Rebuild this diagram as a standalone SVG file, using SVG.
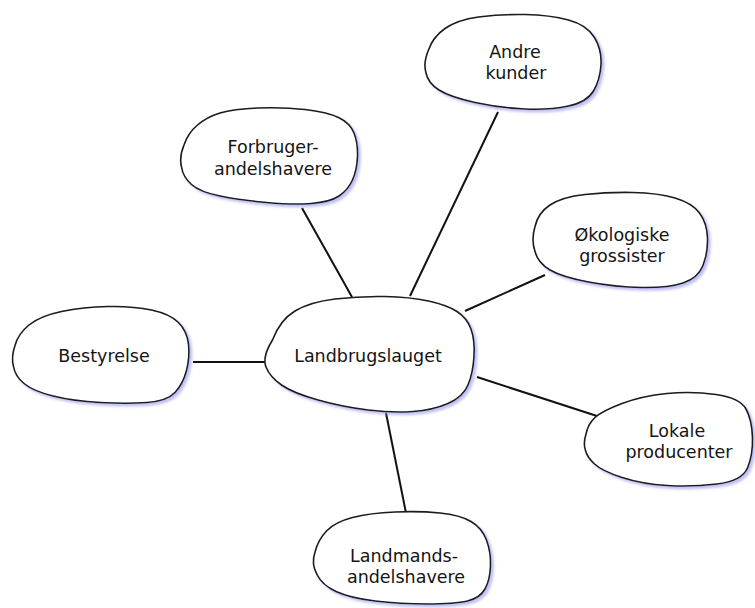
<svg xmlns="http://www.w3.org/2000/svg" width="755" height="608" viewBox="0 0 755 608">
<defs>
<style>
.blob{fill:#fff;stroke:#1a1a1a;stroke-width:1.6;filter:url(#sh)}
.lbl{font-family:"DejaVu Sans",sans-serif;font-size:17.5px;fill:#141414;text-anchor:middle}
.con{stroke:#111;stroke-width:2;fill:none}
</style>
<filter id="sh" x="-10%" y="-10%" width="125%" height="130%">
<feDropShadow dx="2.5" dy="2.5" stdDeviation="1.2" flood-color="#8c8cea" flood-opacity="0.55"/>
</filter>
</defs>
<rect width="755" height="608" fill="#fff"/>
<g id="connectors">
<line class="con" x1="302" y1="208" x2="352" y2="297"/>
<line class="con" x1="498" y1="112" x2="410" y2="296"/>
<line class="con" x1="545" y1="275" x2="465" y2="311"/>
<line class="con" x1="193" y1="362" x2="265" y2="362"/>
<line class="con" x1="477" y1="377" x2="597" y2="416"/>
<line class="con" x1="386" y1="413" x2="406" y2="513"/>
</g>
<g id="landbrugslauget">
<path class="blob" d="M272.5,340 Q280,320 295,311 Q310,302 335,299 Q360,296 385,296.5 Q410,297 428.5,301 Q447,305 457,311.5 Q467,318 471,329 Q475,340 474,356.5 Q473,373 468,385 Q463,397 448,403.5 Q433,410 413,411.5 Q393,413 368,410 Q343,407 318,400 Q293,393 281.5,385 Q270,377 266,367 Q262,357 272.5,340 Z"/>
<text class="lbl" x="368" y="362">Landbrugslauget</text>
</g>
<g id="forbruger">
<path class="blob" d="M184,145 Q188,133 197.5,125 Q207,117 220,113 Q233,109 258,108 Q283,107 305,109.5 Q327,112 338.5,117.5 Q350,123 354,133 Q358,143 357.5,156.5 Q357,170 352.5,180 Q348,190 339,196 Q330,202 311.5,203.5 Q293,205 266.5,202.5 Q240,200 220,196 Q200,192 191.5,184.5 Q183,177 181.5,167 Q179,157 184,145 Z"/>
<text class="lbl" x="273" y="153">Forbruger-</text>
<text class="lbl" x="273" y="175">andelshavere</text>
</g>
<g id="andre-kunder">
<path class="blob" d="M428.5,50 Q433,37 445,28.5 Q457,20 478.5,17 Q500,14 525,14.5 Q550,15 568.5,20 Q587,25 594.5,37.5 Q602,50 601,65 Q600,80 593.5,91 Q587,102 568.5,106 Q550,110 525,109 Q500,108 475,102.5 Q450,97 439,90 Q428,83 426,73 Q423,63 428.5,50 Z"/>
<text class="lbl" x="515" y="58">Andre</text>
<text class="lbl" x="516" y="79">kunder</text>
</g>
<g id="okologiske">
<path class="blob" d="M535,226.5 Q538,213 550,205 Q562,197 585,194.5 Q608,192 633,192.5 Q658,193 675,198 Q692,203 699.5,213 Q707,223 707.5,238 Q708,253 703,265.5 Q698,278 683,283 Q668,288 641.5,287.5 Q615,287 588.5,282 Q562,277 550,270 Q538,263 535,251.5 Q531,240 535,226.5 Z"/>
<text class="lbl" x="622" y="241">Økologiske</text>
<text class="lbl" x="622" y="262">grossister</text>
</g>
<g id="bestyrelse">
<path class="blob" d="M15,345.5 Q18,334 29,325 Q40,316 61.5,311.5 Q83,307 108,306.5 Q133,306 151.5,310 Q170,314 178.5,322.5 Q187,331 188.5,344 Q190,357 186.5,370.5 Q183,384 175,392.5 Q167,401 147,402.5 Q127,404 100,402.5 Q73,401 53,396 Q33,391 24,383.5 Q15,376 13.5,366.5 Q11,357 15,345.5 Z"/>
<text class="lbl" x="104" y="362">Bestyrelse</text>
</g>
<g id="lokale">
<path class="blob" d="M586,434 Q588,424 595,417.5 Q602,411 622,403.5 Q642,396 667,393.5 Q692,391 716,394.5 Q740,398 746,409 Q752,420 752.5,437.5 Q753,455 747.5,468 Q742,481 717,484 Q692,487 667,485.5 Q642,484 622,477.5 Q602,471 594.5,464 Q587,457 585.5,450.5 Q583,444 586,434 Z"/>
<text class="lbl" x="677" y="437">Lokale</text>
<text class="lbl" x="679" y="458">producenter</text>
</g>
<g id="landmands">
<path class="blob" d="M315,552 Q318,540 326.5,531 Q335,522 352.5,517.5 Q370,513 395,512 Q420,511 440,513 Q460,515 471,521.5 Q482,528 486.5,540 Q491,552 490.5,566 Q490,580 485,589 Q480,598 467.5,601 Q455,604 427.5,604 Q400,604 375,601 Q350,598 336,591.5 Q322,585 317,574.5 Q311,564 315,552 Z"/>
<text class="lbl" x="404" y="562">Landmands-</text>
<text class="lbl" x="406" y="583">andelshavere</text>
</g>
</svg>
